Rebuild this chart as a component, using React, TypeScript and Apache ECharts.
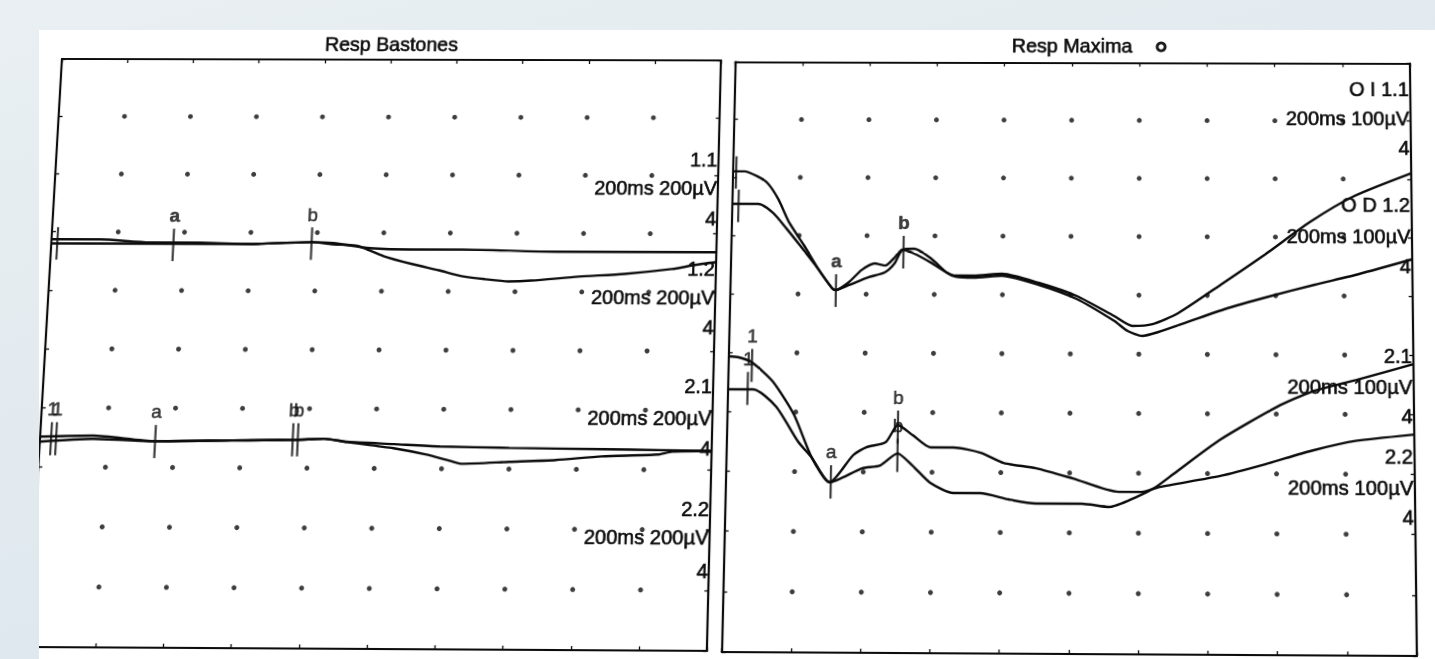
import React, { useEffect, useRef } from "react";
import * as echarts from "echarts";

// ---------- axis ticks (10 divisions per panel) ----------
const MS_TICKS = [0, 20, 40, 60, 80, 100, 120, 140, 160, 180, 200];
const ROD_UV_TICKS = [-1000, -800, -600, -400, -200, 0, 200, 400, 600, 800, 1000];
const MAX_UV_TICKS = [-500, -400, -300, -200, -100, 0, 100, 200, 300, 400, 500];

// ---------- texts ----------
const PANEL_TITLES = ["Resp Bastones", "Resp Maxima"];
const ROD_LABELS = ["1.1", "200ms 200µV", "4", "1.2", "200ms 200µV", "4", "2.1", "200ms 200µV", "4", "2.2", "200ms 200µV", "4"];
const MAX_LABELS = ["O I 1.1", "200ms 100µV", "4", "O D 1.2", "200ms 100µV", "4", "2.1", "200ms 100µV", "4", "2.2", "200ms 100µV", "4"];

// ---------- traces: [ms, µV] ----------
const ROD_11 = [[0, 374], [14.6, 374], [29.6, 364], [44.6, 364], [59.5, 360], [78.4, 367], [85, 364], [96, 347], [110.4, 343], [123.9, 343], [152, 337], [176.2, 337], [200, 337]];
const ROD_12 = [[0, 360], [14.6, 360], [31.1, 360], [59.5, 360], [78.4, 367], [85, 360], [92.5, 354], [100.2, 320], [108.9, 293], [117, 272], [123.9, 252], [131, 242], [137.9, 235], [144.8, 238], [158.9, 252], [172.6, 262], [186.7, 279], [193.6, 293], [200, 303]];
const ROD_21 = [[0, -298], [15.8, -294], [34.4, -312], [57.3, -308], [76.5, -305], [84.8, -301], [91.6, -311], [105.5, -318], [119.2, -325], [139.9, -329], [167.5, -332], [184.1, -334], [200, -336]];
const ROD_22 = [[0, -315], [15.8, -305], [34.4, -312], [57.3, -308], [76.5, -305], [84.8, -301], [91.6, -312], [105.5, -332], [115, -352], [123.3, -376], [126, -383], [139.9, -376], [153.8, -369], [167.5, -356], [184.1, -349], [188.2, -339], [200, -336]];

const MAX_11 = [[0, 310], [3.4, 310], [7.3, 301.5], [10.4, 289.6], [13.6, 262.6], [17, 222], [21.5, 183], [25.7, 144], [30, 110], [31.1, 107], [34.9, 120.5], [38.5, 141], [42.4, 152.6], [45.5, 149], [48.2, 162.7], [50.5, 176.3], [54, 169.5], [59, 154], [63.6, 137.4], [66.2, 132.3], [71.5, 132.3], [79.8, 135.7], [90.6, 120.5], [101.7, 98.5], [112.7, 64.7], [118.1, 47.8], [124, 51], [131.5, 69.8], [144.5, 120.5], [157.2, 171.2], [170.2, 226], [183, 270], [200, 310]];
const MAX_12 = [[0, 254], [7.7, 254], [12.1, 239], [16.2, 212], [20.3, 183], [24.9, 149.4], [30, 110], [31.1, 107], [34.9, 115.5], [40.7, 129], [45.4, 137.4], [48.2, 152.6], [50.5, 176.3], [54, 178], [59, 161], [63.6, 137.4], [66.2, 130.6], [71.5, 129], [79.8, 132.3], [90.6, 117.1], [101.7, 93.4], [112.8, 56.2], [116.7, 39.3], [121, 30.8], [125.7, 37.6], [131.7, 49.5], [144.9, 76.5], [158, 98.5], [171.4, 118.8], [184.4, 137.4], [200, 162.7]];
const MAX_21 = [[0, -6.4], [3, -8], [6.9, -16.5], [13.1, -48.6], [19.5, -104.4], [25, -177.2], [30.3, -217.7], [37, -172], [40.8, -158.6], [46.4, -150], [49.9, -121.3], [54.3, -138.3], [59.5, -158.6], [66.2, -158.6], [74.1, -167.1], [80.8, -184], [90.2, -192.5], [101, -209.4], [114.2, -231.4], [120.9, -231.4], [126.1, -223], [143.7, -204], [156.8, -184], [170.3, -161], [183.4, -144], [200, -133.3]];
const MAX_22 = [[0, -62.2], [7.5, -62.2], [14.2, -90.9], [20.9, -150.1], [25, -177], [30.3, -217.7], [39.6, -194.2], [44.9, -189.1], [49.9, -168.8], [54.3, -189.1], [59.5, -217.7], [66.2, -234.6], [74.1, -234.6], [82.3, -244.8], [90.2, -251.5], [103.6, -251.5], [111.5, -256.6], [119.4, -239.7], [125, -223], [130.2, -200.8], [143.7, -143.4], [160.3, -87.6], [170.3, -62.2], [183.4, -41.9], [200, -14.9]];

// ---------- wave markers: [ms, µV, label] ----------
const ROD_MARKERS = [[1.8, 360, ""], [36.8, 356, "a"], [78.4, 362, "b"], [3.3, -305, "1"], [4.8, -305, "1"], [34.4, -313, "a"], [75.4, -305, "b"], [76.9, -305, "b"]];
const MAX_MARKERS = [[1.0, 308, ""], [1.9, 250.5, ""], [31.1, 106, "a"], [50.8, 172, "b"], [6.9, -21.6, "1"], [5.8, -60.6, "1"], [30.6, -217, "a"], [49.9, -124.7, "b"], [49.9, -172, "b"]];

// ---------- layout / style ----------
const FONT = "'Liberation Sans', Arial, Helvetica, sans-serif";
const INK = "#0c0c0c";
const W = 1435;
const H = 659;
const GRIDS = [
  { left: 45, top: 59, width: 672.2, height: 592 },
  { left: 731.7, top: 60.5, width: 682.3, height: 591.5 },
];
const ROD_LABEL_Y = [161.5, 190.5, 221.5, 272, 301, 331, 390.5, 422.5, 452, 512.5, 540, 573];
const MAX_LABEL_Y = [87, 117.3, 147, 205, 237, 267, 357, 388.5, 417, 457, 488.5, 517];

// perspective of the photographed page: nominal frame corners -> photo corners
const SRC = [[45, 58], [1414, 58], [1414, 650], [45, 650]];
const DST = [[62, 58], [1410, 61], [1417, 654], [28, 646]];

function homography(src: number[][], dst: number[][]) {
  const A: number[][] = [];
  const b: number[] = [];
  for (let i = 0; i < 4; i++) {
    const [x, y] = src[i];
    const [X, Y] = dst[i];
    A.push([x, y, 1, 0, 0, 0, -x * X, -y * X]);
    b.push(X);
    A.push([0, 0, 0, x, y, 1, -x * Y, -y * Y]);
    b.push(Y);
  }
  const n = 8;
  for (let c = 0; c < n; c++) {
    let p = c;
    for (let r = c + 1; r < n; r++) if (Math.abs(A[r][c]) > Math.abs(A[p][c])) p = r;
    [A[c], A[p]] = [A[p], A[c]];
    [b[c], b[p]] = [b[p], b[c]];
    for (let r = 0; r < n; r++) {
      if (r === c) continue;
      const f = A[r][c] / A[c][c];
      for (let k = c; k < n; k++) A[r][k] -= f * A[c][k];
      b[r] -= f * b[c];
    }
  }
  const h = b.map((v, i) => v / A[i][i]);
  const [a, bb, c, d, e, f, g, hh] = h;
  return `matrix3d(${a},${d},0,${g},${bb},${e},0,${hh},0,0,1,0,${c},${f},0,1)`;
}
const TRANSFORM = homography(SRC, DST);

function mkX(gridIndex: number, position: string) {
  return {
    type: "value",
    gridIndex,
    position,
    min: MS_TICKS[0],
    max: MS_TICKS[MS_TICKS.length - 1],
    interval: MS_TICKS[1] - MS_TICKS[0],
    axisLine: { show: true, onZero: false, lineStyle: { color: INK, width: 2.2 } },
    axisTick: { show: true, inside: true, length: 4, lineStyle: { color: INK, width: 1.3 } },
    axisLabel: { show: false },
    splitLine: { show: false },
  };
}
function mkY(gridIndex: number, position: string, ticks: number[]) {
  return {
    type: "value",
    gridIndex,
    position,
    min: ticks[0],
    max: ticks[ticks.length - 1],
    interval: ticks[1] - ticks[0],
    axisLine: { show: true, onZero: false, lineStyle: { color: INK, width: 2.2 } },
    axisTick: { show: true, inside: true, length: 4, lineStyle: { color: INK, width: 1.3 } },
    axisLabel: { show: false },
    splitLine: { show: false },
  };
}

function dots(yTicks: number[], xi: number, yi: number) {
  const data: number[][] = [];
  MS_TICKS.slice(1, -1).forEach((x) => yTicks.slice(1, -1).forEach((y) => data.push([x, y])));
  return {
    type: "scatter",
    xAxisIndex: xi,
    yAxisIndex: yi,
    data,
    symbol: "circle",
    symbolSize: 5,
    itemStyle: { color: INK },
    silent: true,
    z: 1,
  };
}

function trace(data: number[][], xi: number, yi: number) {
  return {
    type: "line",
    xAxisIndex: xi,
    yAxisIndex: yi,
    data,
    showSymbol: false,
    symbol: "none",
    smooth: 0.22,
    lineStyle: { color: INK, width: 2.4 },
    silent: true,
    z: 3,
  };
}

function markers(list: any[], xi: number, yi: number, bold: number[]) {
  return {
    type: "scatter",
    xAxisIndex: xi,
    yAxisIndex: yi,
    symbol: "rect",
    symbolSize: [2.2, 33],
    itemStyle: { color: INK },
    silent: true,
    z: 4,
    label: {
      show: true,
      position: "top",
      distance: 4,
      color: INK,
      fontSize: 19,
      fontFamily: FONT,
      textBorderColor: INK,
      textBorderWidth: 0.5,
    },
    data: list.map(([ms, uv, lab], i) => ({
      value: [ms, uv],
      name: lab,
      label: { show: !!lab, formatter: lab || " ", fontWeight: bold.includes(i) ? "bold" : "normal" },
    })),
  };
}

function text(t: string, x: number, y: number, align: string, size = 20) {
  return {
    type: "text",
    x,
    y,
    silent: true,
    z: 10,
    style: {
      text: t,
      fill: INK,
      stroke: INK,
      lineWidth: 0.6,
      fontSize: size,
      fontFamily: FONT,
      align,
      verticalAlign: "middle",
    },
  };
}

function buildOption() {
  const graphic: any[] = [];
  graphic.push(text(PANEL_TITLES[0], GRIDS[0].left + GRIDS[0].width / 2, 43.5, "center"));
  graphic.push(text(PANEL_TITLES[1], GRIDS[1].left + GRIDS[1].width / 2, 43.7, "center"));
  graphic.push({ type: "ring", silent: true, shape: { cx: 1163, cy: 44, r: 5.5, r0: 2.6 }, style: { fill: "#1a1a1a" } });
  ROD_LABELS.forEach((t, i) => graphic.push(text(t, GRIDS[0].left + GRIDS[0].width - 1.2, ROD_LABEL_Y[i], "right")));
  MAX_LABELS.forEach((t, i) => graphic.push(text(t, GRIDS[1].left + GRIDS[1].width - 1.5, MAX_LABEL_Y[i], "right")));

  return {
    animation: false,
    backgroundColor: "transparent",
    grid: GRIDS.map((g) => ({ ...g, show: false, containLabel: false })),
    xAxis: [mkX(0, "bottom"), mkX(0, "top"), mkX(1, "bottom"), mkX(1, "top")],
    yAxis: [mkY(0, "left", ROD_UV_TICKS), mkY(0, "right", ROD_UV_TICKS), mkY(1, "left", MAX_UV_TICKS), mkY(1, "right", MAX_UV_TICKS)],
    series: [
      dots(ROD_UV_TICKS, 0, 0),
      dots(MAX_UV_TICKS, 2, 2),
      trace(ROD_11, 0, 0),
      trace(ROD_12, 0, 0),
      trace(ROD_21, 0, 0),
      trace(ROD_22, 0, 0),
      trace(MAX_11, 2, 2),
      trace(MAX_12, 2, 2),
      trace(MAX_21, 2, 2),
      trace(MAX_22, 2, 2),
      markers(ROD_MARKERS, 0, 0, [1]),
      markers(MAX_MARKERS, 2, 2, [2, 3]),
    ],
    graphic,
  };
}

export default function App() {
  const ref = useRef<HTMLDivElement>(null);
  useEffect(() => {
    if (!ref.current) return;
    const chart = echarts.init(ref.current, null, { renderer: "svg", width: W, height: H });
    chart.setOption(buildOption() as any);
    return () => chart.dispose();
  }, []);
  return (
    <div
      style={{
        position: "fixed",
        left: 0,
        top: 0,
        width: W,
        height: H,
        overflow: "hidden",
        background: "linear-gradient(165deg, #e9eff2 0%, #e2eaef 45%, #d6e4eb 100%)",
      }}
    >
      <div
        style={{
          position: "absolute",
          left: 39,
          top: 30,
          width: W - 39,
          height: H - 30,
          background: "#ffffff",
          overflow: "hidden",
        }}
      >
        <div
          ref={ref}
          style={{
            position: "absolute",
            left: -39,
            top: -30,
            width: W,
            height: H,
            transformOrigin: "0 0",
            transform: TRANSFORM,
          }}
        />
      </div>
    </div>
  );
}
